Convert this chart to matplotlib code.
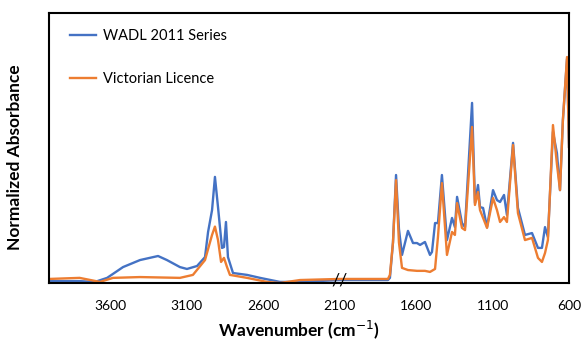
import numpy as np
import matplotlib.pyplot as plt

# spectra (wavenumber in cm-1, normalized absorbance)
wadl_wn = [4000, 3800, 3700, 3620, 3516, 3405, 3287, 3229, 3144, 3098, 3032, 2980,
           2960, 2934, 2915, 2895, 2869, 2856, 2843, 2830, 2797, 2705, 2620, 2490,
           2359, 2100, 1784, 1771, 1751, 1731, 1712, 1692, 1653, 1620, 1594, 1574,
           1542, 1509, 1496, 1476, 1457, 1431, 1398, 1365, 1346, 1332, 1300, 1280,
           1234, 1215, 1195, 1182, 1162, 1136, 1097, 1071, 1051, 1025, 1006, 966,
           934, 888, 842, 803, 777, 757, 738, 705, 679, 659, 640, 613, 600]
wadl_abs = [0.007, 0.007, 0.004, 0.019, 0.059, 0.085, 0.100, 0.085, 0.059, 0.052, 0.063, 0.096,
            0.189, 0.270, 0.393, 0.281, 0.130, 0.133, 0.226, 0.096, 0.037, 0.030, 0.019, 0.004,
            0.004, 0.011, 0.011, 0.019, 0.150, 0.400, 0.200, 0.104, 0.193, 0.148, 0.148, 0.141,
            0.152, 0.104, 0.115, 0.222, 0.222, 0.400, 0.159, 0.241, 0.207, 0.319, 0.222, 0.207,
            0.667, 0.296, 0.363, 0.281, 0.278, 0.207, 0.344, 0.307, 0.300, 0.326, 0.252, 0.519,
            0.278, 0.178, 0.185, 0.130, 0.130, 0.207, 0.170, 0.560, 0.481, 0.344, 0.604, 0.830, 0.504]

vic_wn = [4000, 3800, 3667, 3582, 3405, 3144, 3059, 2980, 2934, 2915, 2895, 2875,
          2856, 2836, 2817, 2705, 2575, 2490, 2359, 2100, 1784, 1771, 1751, 1731,
          1712, 1692, 1653, 1594, 1542, 1509, 1476, 1457, 1431, 1398, 1365, 1346,
          1332, 1300, 1280, 1234, 1215, 1195, 1182, 1136, 1097, 1071, 1051, 1025,
          1006, 966, 934, 888, 842, 803, 777, 757, 738, 705, 679, 659, 640, 613, 600]
vic_abs = [0.015, 0.019, 0.004, 0.019, 0.022, 0.019, 0.030, 0.085, 0.178, 0.209, 0.159, 0.078,
           0.093, 0.059, 0.030, 0.019, 0.004, 0.000, 0.011, 0.015, 0.015, 0.030, 0.150, 0.381,
           0.150, 0.056, 0.048, 0.045, 0.045, 0.041, 0.052, 0.170, 0.370, 0.104, 0.189, 0.178,
           0.296, 0.204, 0.196, 0.578, 0.289, 0.337, 0.270, 0.204, 0.315, 0.270, 0.226, 0.244,
           0.226, 0.511, 0.259, 0.159, 0.167, 0.093, 0.078, 0.111, 0.159, 0.585, 0.440, 0.344,
           0.604, 0.837, 0.504]

tick_vals = [3600, 3100, 2600, 2100, 1600, 1100, 600]

plt.rcParams['font.family'] = ['Lato', 'DejaVu Sans']

fig = plt.figure(figsize=(5.82, 3.42), dpi=100)
ax = fig.add_axes([0.0842, 0.1725, 0.8935, 0.7895])

ax.plot(wadl_wn, wadl_abs, color='#4472C4', lw=1.7, label='WADL 2011 Series')
ax.plot(vic_wn, vic_abs, color='#ED7D31', lw=1.7, label='Victorian Licence')

ax.set_xlim(4000, 600)
ax.set_ylim(0, 1)
ax.set_xticks(tick_vals)
ax.set_xticklabels([str(v) for v in tick_vals], fontsize=10)
ax.set_yticks([])
ax.tick_params(axis='x', length=0, pad=12)
for s in ax.spines.values():
    s.set_linewidth(1.5)
    s.set_color('black')

# axis break mark
ax.text(2100, 0.01, '//', ha='center', va='center', fontsize=13,
        color='black', clip_on=False)

ax.set_xlabel('Wavenumber (cm$^{-1}$)', fontsize=12.5, fontweight='bold')
ax.set_ylabel('Normalized Absorbance', fontsize=12.5, fontweight='bold')
ax.xaxis.set_label_coords(0.48, -0.13)
ax.yaxis.set_label_coords(-0.05, 0.465)

leg = ax.legend(loc='upper left', frameon=False, fontsize=10.5, labelspacing=1.95,
                handlelength=1.8, handletextpad=0.5, borderpad=0, borderaxespad=0,
                bbox_to_anchor=(0.04, 0.94))

fig.savefig('out.png', dpi=100)
